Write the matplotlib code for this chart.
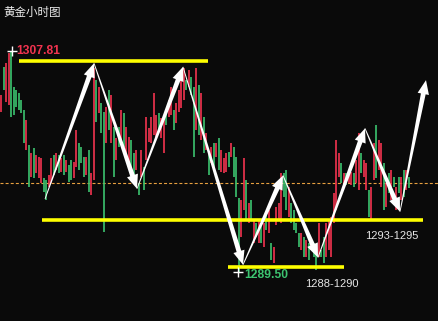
import numpy as np
import matplotlib
matplotlib.use("Agg")
import matplotlib.pyplot as plt
from matplotlib.patches import Polygon
from matplotlib.transforms import IdentityTransform

# Stundenkerzen Gold: Hoch / Tief / Farbe (1 = rot/steigend, 0 = grün/fallend)
highs = [1304.16, 1306.48, 1306.82, 1307.64, 1307.81, 1304.83, 1304.58, 1304.33, 1303.75, 1302.92,
         1302.09, 1300.02, 1299.36, 1299.77, 1299.19, 1299.03, 1298.94, 1297.29, 1297.12, 1297.54,
         1298.94, 1299.19, 1299.36, 1299.19, 1298.94, 1299.19, 1298.78, 1298.36, 1298.78, 1298.61,
         1301.26, 1300.19, 1299.86, 1299.03, 1299.03, 1299.61, 1297.70, 1306.40, 1305.41, 1304.83,
         1303.50, 1302.76, 1303.17, 1304.58, 1304.16, 1301.51, 1300.60, 1301.51, 1302.92, 1302.67,
         1301.51, 1300.69, 1300.44, 1299.36, 1299.61, 1296.87, 1299.61, 1298.20, 1302.34, 1301.43,
         1302.34, 1304.33, 1302.51, 1302.67, 1302.26, 1302.34, 1302.76, 1303.75, 1304.83, 1302.92,
         1303.50, 1304.58, 1305.41, 1306.40, 1305.41, 1306.24, 1305.66, 1304.83, 1306.40, 1304.99,
         1304.33, 1302.34, 1301.02, 1299.36, 1299.86, 1300.19, 1300.19, 1300.60, 1299.61, 1298.94,
         1299.36, 1299.44, 1300.19, 1299.86, 1299.03, 1295.63, 1295.47, 1298.94, 1297.12, 1295.22,
         1295.47, 1293.81, 1293.56, 1293.81, 1293.56, 1293.56, 1294.39, 1294.64, 1291.90, 1291.57,
         1294.89, 1295.22, 1297.70, 1297.70, 1297.95, 1296.54, 1295.22, 1294.64, 1293.56, 1292.73,
         1292.73, 1292.40, 1292.15, 1291.90, 1292.15, 1291.90, 1291.07, 1293.56, 1291.32, 1292.40,
         1293.56, 1293.81, 1294.06, 1296.05, 1300.44, 1299.36, 1298.53, 1297.70, 1297.70, 1297.70,
         1297.78, 1297.70, 1298.78, 1301.02, 1299.36, 1298.78, 1298.53, 1296.29, 1296.54, 1300.19,
         1301.68, 1300.44, 1300.19, 1298.53, 1296.87, 1297.70, 1297.95, 1297.37, 1296.54, 1297.37,
         1297.37, 1297.95, 1297.95, 1297.37]
lows = [1302.76, 1304.58, 1303.58, 1303.34, 1302.34, 1302.51, 1303.17, 1302.92, 1302.67, 1300.19,
        1299.61, 1296.54, 1297.37, 1297.29, 1297.70, 1297.29, 1296.87, 1296.13, 1295.47, 1296.54,
        1296.87, 1297.54, 1297.95, 1297.70, 1297.78, 1297.54, 1297.78, 1296.96, 1297.12, 1297.29,
        1298.20, 1297.95, 1298.53, 1297.37, 1297.54, 1296.13, 1295.88, 1297.12, 1301.93, 1302.67,
        1301.02, 1292.81, 1300.19, 1301.26, 1300.19, 1297.37, 1298.78, 1299.86, 1300.19, 1299.86,
        1299.03, 1298.53, 1298.20, 1296.87, 1297.95, 1295.88, 1297.37, 1296.29, 1298.78, 1300.27,
        1300.19, 1300.85, 1300.69, 1301.26, 1300.60, 1299.36, 1301.68, 1302.34, 1302.51, 1301.26,
        1301.84, 1302.76, 1303.09, 1303.75, 1304.58, 1304.83, 1304.16, 1299.03, 1301.26, 1300.85,
        1300.44, 1299.36, 1299.61, 1297.54, 1298.53, 1297.95, 1299.03, 1297.95, 1297.78, 1297.70,
        1297.78, 1298.20, 1299.03, 1297.37, 1295.71, 1289.50, 1292.40, 1294.64, 1293.81, 1293.56,
        1293.81, 1291.90, 1292.40, 1291.90, 1291.90, 1291.57, 1292.98, 1292.73, 1290.49, 1290.25,
        1293.39, 1293.81, 1293.56, 1295.71, 1294.64, 1294.06, 1293.56, 1292.98, 1292.73, 1291.57,
        1291.32, 1290.74, 1290.74, 1290.49, 1291.32, 1290.74, 1289.67, 1290.74, 1290.74, 1290.25,
        1290.74, 1291.32, 1290.74, 1293.56, 1294.64, 1297.37, 1296.87, 1296.87, 1296.71, 1296.87,
        1296.71, 1296.54, 1296.87, 1296.29, 1297.70, 1297.37, 1296.29, 1294.06, 1293.81, 1297.12,
        1297.29, 1297.95, 1296.54, 1294.64, 1294.89, 1296.05, 1295.47, 1296.54, 1294.64, 1296.05,
        1295.47, 1295.71, 1296.29, 1296.46]
rising = [1, 0, 1, 1, 0, 0, 0, 0, 0, 0, 1, 0, 1, 0, 1, 1, 1, 0, 0, 1,
          1, 0, 1, 0, 1, 0, 1, 0, 0, 1, 1, 0, 0, 0, 1, 0, 1, 1, 0, 1,
          0, 0, 1, 0, 1, 0, 1, 0, 1, 0, 1, 1, 0, 0, 1, 0, 1, 0, 1, 1,
          1, 1, 1, 0, 1, 1, 0, 1, 1, 0, 1, 1, 1, 1, 0, 1, 0, 0, 1, 0,
          1, 0, 1, 0, 1, 0, 1, 0, 1, 1, 1, 0, 1, 0, 0, 0, 1, 1, 0, 1,
          0, 1, 0, 1, 0, 1, 0, 1, 0, 1, 1, 1, 1, 0, 0, 1, 0, 0, 0, 0,
          1, 0, 1, 0, 1, 0, 0, 1, 0, 0, 1, 1, 1, 1, 1, 1, 0, 1, 0, 1,
          1, 0, 1, 1, 0, 1, 1, 0, 1, 1, 0, 1, 1, 0, 1, 0, 1, 0, 1, 0,
          1, 0, 1, 0]

# Markierungen
resistance = 1307.0
support_mid = 1293.77
support_low = 1289.9
ref_price = 1296.87
zone_labels = ["1293-1295", "1288-1290"]
# Pfeilweg (Kerzen-Index, Preis)
path_idx = [17.6, 37.2, 54.4, 72.8, 96.8, 112.8, 126.8, 145.6, 159.6, 170.0]
path_price = [1295.55, 1306.8, 1296.4, 1306.5, 1290.1, 1297.5, 1290.7, 1301.4, 1294.5, 1305.4]

RED = '#f2334f'
GREEN = '#3cc470'
BG = '#0a0a0a'


def draw_arrow(ax, p0, p1, tail_w=0.8, body_w=4.8, head_w=11.5, head_len=14):
    a = ax.transData.transform(p0)
    b = ax.transData.transform(p1)
    d = b - a
    u = d / np.hypot(*d)
    n = np.array([-u[1], u[0]])
    base = b - u * head_len
    pts = [a + n * tail_w / 2, base + n * body_w / 2, base + n * head_w / 2, b,
           base - n * head_w / 2, base - n * body_w / 2, a - n * tail_w / 2]
    ax.add_patch(Polygon(pts, closed=True, transform=IdentityTransform(),
                         facecolor='white', edgecolor='none', zorder=5))


fig = plt.figure(figsize=(4.39, 3.21), dpi=100, facecolor=BG)
ax = fig.add_axes([0, 0, 1, 1])
ax.set_facecolor(BG)
ax.axis('off')

idx = np.arange(len(highs))
cols = [RED if r else GREEN for r in rising]
ax.vlines(idx, lows, highs, colors=cols, linewidth=1.2, zorder=2)

ax.set_xlim(-0.4, 439 / 2.5 - 0.4)
ax.set_ylim(1285.44, 1312.04)

# gestrichelte Referenzlinie
ax.axhline(ref_price, color='#e8a040', linewidth=0.8, dashes=(2.7, 1.9), zorder=1)

# gelbe Linien
ax.hlines(resistance, 7.2, 82.8, color='#ffff00', linewidth=2.6, zorder=4)
ax.hlines(support_mid, 16.4, 168.8, color='#ffff00', linewidth=2.6, zorder=4)
ax.hlines(support_low, 90.8, 137.2, color='#ffff00', linewidth=2.6, zorder=4)

# Pfeile
for k in range(len(path_idx) - 1):
    draw_arrow(ax, (path_idx[k], path_price[k]), (path_idx[k + 1], path_price[k + 1]))

# Hoch / Tief
i_hi = int(np.argmax(highs))
i_lo = int(np.argmin(lows))
ax.plot(i_hi + 0.4, highs[i_hi], marker='+', color='white', ms=7, mew=1, zorder=6)
ax.plot(i_lo - 0.2, lows[i_lo], marker='+', color='white', ms=7, mew=1, zorder=6)
ax.text(i_hi + 2.2, highs[i_hi], f"{highs[i_hi]:.2f}", color=RED, fontsize=8.7,
        fontweight='bold', family='Liberation Sans', ha='left', va='center', zorder=6)
ax.text(i_lo + 2.2, lows[i_lo] - 0.25, f"{lows[i_lo]:.2f}", color=GREEN, fontsize=8.7,
        fontweight='bold', family='Liberation Sans', ha='left', va='center', zorder=6)

ax.text(145.6, 1292.5, zone_labels[0], color='#e6e6e6', fontsize=8,
        family='Liberation Sans', ha='left', va='center', zorder=6)
ax.text(121.6, 1288.5, zone_labels[1], color='#e6e6e6', fontsize=8,
        family='Liberation Sans', ha='left', va='center', zorder=6)

fig.text(3 / 439, 1 - 12 / 321, "黄金小时图", color='#eeeeee', fontsize=8.3,
         family=['Noto Sans CJK SC', 'DejaVu Sans'], ha='left', va='center')

fig.savefig('out.png', dpi=100, facecolor=BG)
